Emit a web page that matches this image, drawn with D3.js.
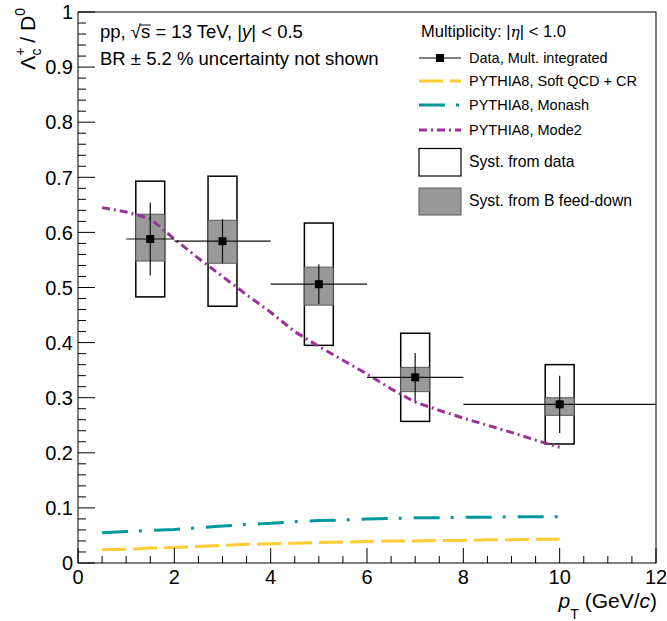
<!DOCTYPE html>
<html><head><meta charset="utf-8">
<script src="https://cdn.jsdelivr.net/npm/d3@7"></script>
<style>
html,body{margin:0;padding:0;background:#fff;}
svg{display:block;font-family:"Liberation Sans",Arial,Helvetica,sans-serif;}
</style></head>
<body><svg id="c" width="667" height="621"></svg>
<script>
// ---- data ----
const ptCenter = [1.5, 3, 5, 7, 10];
const ptLow    = [1, 2, 4, 6, 8];
const ptHigh   = [2, 4, 6, 8, 12];
const ratio    = [0.588, 0.584, 0.506, 0.337, 0.288];
const statErr  = [0.066, 0.040, 0.036, 0.044, 0.052];
const systData = [0.105, 0.118, 0.111, 0.080, 0.072];
const systFdUp   = [0.045, 0.038, 0.031, 0.018, 0.012];
const systFdDown = [0.040, 0.040, 0.038, 0.026, 0.020];
const systHalfWidth = 0.3;

const modelPt = [0.5,1,1.5,2,2.5,3,3.5,4,4.5,5,5.5,6,6.5,7,7.5,8,8.5,9,9.5,10];
const softQCD = [0.024,0.025,0.027,0.028,0.030,0.032,0.034,0.035,0.036,0.037,0.038,0.039,0.040,0.040,0.041,0.041,0.042,0.042,0.043,0.043];
const monash  = [0.055,0.057,0.059,0.061,0.064,0.067,0.070,0.072,0.075,0.077,0.078,0.080,0.081,0.082,0.082,0.083,0.083,0.084,0.084,0.084];
const mode2   = [0.645,0.637,0.625,0.588,0.553,0.520,0.487,0.455,0.420,0.393,0.368,0.343,0.316,0.292,0.277,0.263,0.250,0.237,0.223,0.210];

const xTicks = [0,2,4,6,8,10,12];
const yTicks = [0,0.1,0.2,0.3,0.4,0.5,0.6,0.7,0.8,0.9,1];

// ---- drawing ----
const svg = d3.select("#c");
const X0=78, X1=656, Y0=563, Y1=12;
const x = d3.scaleLinear().domain([0,12]).range([X0,X1]);
const y = d3.scaleLinear().domain([0,1]).range([Y0,Y1]);

// syst boxes (data)
const gb = svg.append("g");
ptCenter.forEach((c,i)=>{
  gb.append("rect")
    .attr("x", x(c-systHalfWidth)).attr("width", x(c+systHalfWidth)-x(c-systHalfWidth))
    .attr("y", y(ratio[i]+systData[i])).attr("height", y(ratio[i]-systData[i])-y(ratio[i]+systData[i]))
    .attr("fill","#fff").attr("stroke","#000").attr("stroke-width",1.5);
});
ptCenter.forEach((c,i)=>{
  gb.append("rect")
    .attr("x", x(c-systHalfWidth)).attr("width", x(c+systHalfWidth)-x(c-systHalfWidth))
    .attr("y", y(ratio[i]+systFdUp[i])).attr("height", y(ratio[i]-systFdDown[i])-y(ratio[i]+systFdUp[i]))
    .attr("fill","#999").attr("stroke","#5a5a5a").attr("stroke-width",1);
});

// model curves
const line = d3.line().x(d=>x(d[0])).y(d=>y(d[1]));
function curve(vals,color,dash){
  svg.append("path").attr("d", line(modelPt.map((p,i)=>[p,vals[i]])))
    .attr("fill","none").attr("stroke",color).attr("stroke-width",3)
    .attr("stroke-dasharray",dash);
}
curve(softQCD,"#ffcc33","24,7");
curve(monash,"#00999a","26,11,3,12");
curve(mode2,"#993399","8,4,2,4");

// data error bars and markers
const gd = svg.append("g");
ptCenter.forEach((c,i)=>{
  gd.append("line").attr("x1",x(ptLow[i])).attr("x2",x(ptHigh[i]))
    .attr("y1",y(ratio[i])).attr("y2",y(ratio[i])).attr("stroke","#111").attr("stroke-width",1.2);
  gd.append("line").attr("x1",x(c)).attr("x2",x(c))
    .attr("y1",y(ratio[i]+statErr[i])).attr("y2",y(ratio[i]-statErr[i])).attr("stroke","#111").attr("stroke-width",1.2);
  gd.append("rect").attr("x",x(c)-4).attr("y",y(ratio[i])-4).attr("width",8).attr("height",8).attr("fill","#000");
});

// frame
svg.append("rect").attr("x",X0).attr("y",Y1).attr("width",X1-X0).attr("height",Y0-Y1)
  .attr("fill","none").attr("stroke","#000").attr("stroke-width",1);

// axes ticks (inside)
const ga = svg.append("g");
d3.range(0,12.0001,0.5).forEach(v=>{
  const major = Math.abs(v/2-Math.round(v/2))<1e-6;
  ga.append("line").attr("x1",x(v)).attr("x2",x(v)).attr("y1",Y0).attr("y2",Y0-(major?15:7))
    .attr("stroke","#000").attr("stroke-width",1);
});
d3.range(0,1.0001,0.02).forEach(v=>{
  const major = Math.abs(v*10-Math.round(v*10))<1e-6;
  ga.append("line").attr("x1",X0).attr("x2",X0+(major?17:8)).attr("y1",y(v)).attr("y2",y(v))
    .attr("stroke","#000").attr("stroke-width",1);
});
xTicks.forEach(v=>{
  ga.append("text").attr("x",x(v)).attr("y",584).attr("text-anchor","middle")
    .attr("font-size",20).text(d3.format("")(v));
});
yTicks.forEach(v=>{
  ga.append("text").attr("x",73).attr("y",y(v)).attr("dy","0.36em").attr("text-anchor","end")
    .attr("font-size",20).text(v===0||v===1?String(v):d3.format(".1f")(v));
});

// axis titles
const xt = svg.append("text").attr("x",657).attr("y",608).attr("text-anchor","end").attr("font-size",21);
xt.append("tspan").attr("font-style","italic").text("p");
xt.append("tspan").attr("font-size",14).attr("dy",11).text("T");
xt.append("tspan").attr("dy",-11).text(" (GeV/");
xt.append("tspan").attr("font-style","italic").text("c");
xt.append("tspan").text(")");

const yt = svg.append("text").attr("transform","translate(35,8) rotate(-90)")
  .attr("text-anchor","end").attr("font-size",21);
yt.append("tspan").text("Λ");
yt.append("tspan").attr("font-size",14).attr("dy",-10).text("+");
yt.append("tspan").attr("font-size",14).attr("dx",-8).attr("dy",16).text("c");
yt.append("tspan").attr("dy",-6).text(" / D");
yt.append("tspan").attr("font-size",14).attr("dy",-10).text("0");

// top-left info text
const t1 = svg.append("text").attr("x",100).attr("y",38).attr("font-size",18.5);
t1.append("tspan").text("pp, ");
t1.append("tspan").text("√s");
t1.append("tspan").text(" = 13 TeV, |");
t1.append("tspan").attr("font-style","italic").text("y");
t1.append("tspan").text("| < 0.5");
// overline over s
{
  const n = t1.node();
  const e = n.getExtentOfChar(5);
  svg.append("line").attr("x1",e.x-1).attr("x2",e.x+e.width+0.5)
    .attr("y1",e.y+4).attr("y2",e.y+4).attr("stroke","#000").attr("stroke-width",1);
}
svg.append("text").attr("x",100).attr("y",65).attr("font-size",18.5).text("BR ± 5.2 % uncertainty not shown");

// legend
const lg = svg.append("g");
const h = lg.append("text").attr("x",421).attr("y",37).attr("font-size",16.5);
h.append("tspan").text("Multiplicity: |");
h.append("tspan").attr("font-style","italic").attr("font-family","DejaVu Serif, serif").attr("font-size",15.5).text("η");
h.append("tspan").text("| < 1.0");

const LX0=419, LX1=461, TX=469;
lg.append("line").attr("x1",LX0).attr("x2",LX1).attr("y1",58).attr("y2",58).attr("stroke","#000").attr("stroke-width",1.2);
lg.append("rect").attr("x",440-4).attr("y",58-4).attr("width",8).attr("height",8).attr("fill","#000");
lg.append("text").attr("x",TX).attr("y",63).attr("font-size",14.5).text("Data, Mult. integrated");

const legCurves = [["PYTHIA8, Soft QCD + CR","#ffcc33","24,7",81],
                   ["PYTHIA8, Monash","#00999a","26,11,3,12",105],
                   ["PYTHIA8, Mode2","#993399","8,4,2,4",130]];
legCurves.forEach(([lab,col,dash,yy])=>{
  lg.append("line").attr("x1",LX0).attr("x2",LX1).attr("y1",yy).attr("y2",yy)
    .attr("stroke",col).attr("stroke-width",3).attr("stroke-dasharray",dash);
  lg.append("text").attr("x",TX).attr("y",yy+5).attr("font-size",14.5).text(lab);
});
lg.append("rect").attr("x",LX0).attr("y",148.5).attr("width",LX1-LX0).attr("height",27.5)
  .attr("fill","#fff").attr("stroke","#000").attr("stroke-width",1.2);
lg.append("text").attr("x",TX).attr("y",167).attr("font-size",15.7).text("Syst. from data");
lg.append("rect").attr("x",LX0).attr("y",188).attr("width",LX1-LX0).attr("height",27)
  .attr("fill","#999").attr("stroke","#5a5a5a").attr("stroke-width",1);
lg.append("text").attr("x",TX).attr("y",206).attr("font-size",15.7).text("Syst. from B feed-down");
</script></body></html>
